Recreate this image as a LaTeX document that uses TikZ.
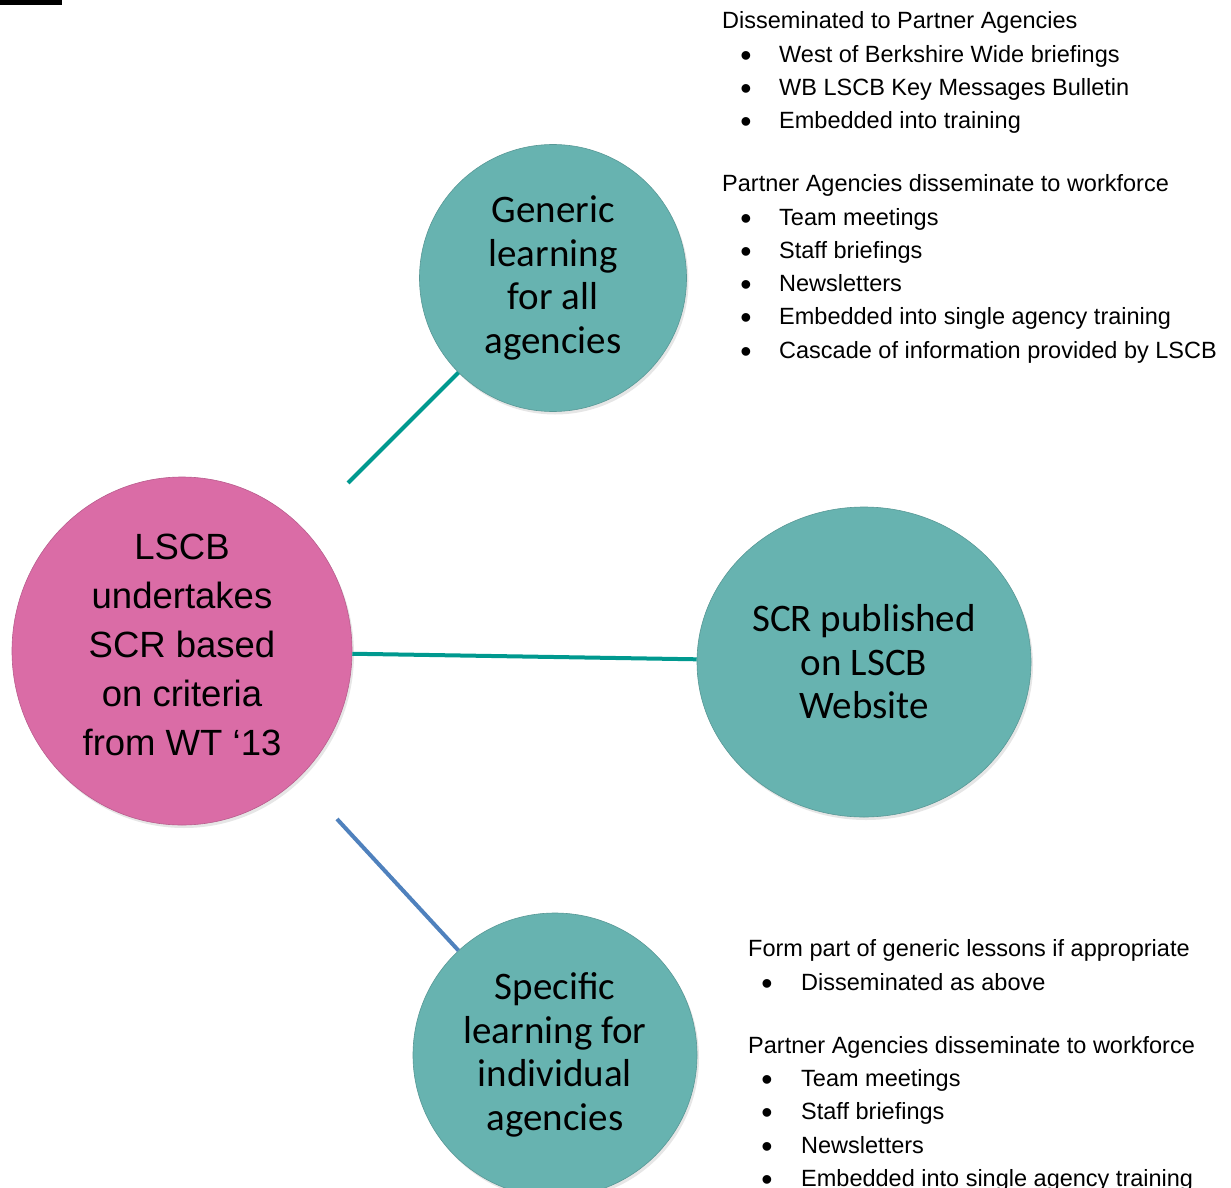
\documentclass[tikz,border=0pt]{standalone}
\usepackage{fontspec}
\setmainfont{Liberation Sans}
\newfontfamily\calfont{Carlito}
\usetikzlibrary{shapes.geometric,shadows}
\definecolor{tealfill}{HTML}{67B3B0}
\definecolor{pinkfill}{HTML}{DA6CA6}
\definecolor{tealline}{HTML}{00998F}
\definecolor{blueline}{HTML}{4F81BD}

\begin{document}
\begin{tikzpicture}[x=1pt,y=-1pt,
    bubble/.style={ellipse,inner sep=0pt,align=center,fill=tealfill,draw=tealfill!85!black,line width=0.6pt,
      drop shadow={shadow xshift=2pt,shadow yshift=-3pt,opacity=0.2},
      font=\calfont\fontsize{39}{43.5}\selectfont},
    hub/.style={bubble,fill=pinkfill,draw=pinkfill!85!black,text depth=12pt,font=\fontsize{36.5}{49}\selectfont},
    head/.style={anchor=base west,inner sep=0pt,font=\fontsize{23.5}{28}\selectfont},
    item/.style={head},
    dot/.style={anchor=base,inner sep=0pt,yshift=-4pt,font=\fontsize{32}{28}\selectfont},
    link/.style={line width=4pt,tealline}]
  \useasboundingbox (0,0) rectangle (1231,1188);
  \fill (0,0) rectangle (62,5);

  % circles
  \node[hub,minimum width=340pt,minimum height=348pt] (lscb) at (182,651)
    {LSCB\\undertakes\\SCR based\\on criteria\\from WT ‘13};
  \node[bubble,minimum width=267pt,minimum height=267pt] (generic) at (553,278)
    {Generic\\learning\\for all\\agencies};
  \node[bubble,minimum width=334pt,minimum height=310pt] (published) at (864,662)
    {SCR published\\on LSCB\\Website};
  \node[bubble,minimum width=284pt,minimum height=284pt] (specific) at (555,1055)
    {Specific\\learning for\\individual\\agencies};

  % connectors
  \coordinate (startA) at (348,483);
  \coordinate (startC) at (337,819);
  \draw[link] (startA) -- (generic);
  \draw[link] (lscb) -- (published);
  \draw[link,blueline] (startC) -- (specific);

  % top text
  \node[head] (hdA) at (722,29) {Disseminated to Partner Agencies};
  \foreach \txt [count=\i] in {West of Berkshire Wide briefings,WB LSCB Key Messages Bulletin,Embedded into training}{
    \node[dot] (dotA\i) at (746,{29+33.3*\i}) {\textbullet};
    \node[item] (itemA\i) at (779,{29+33.3*\i}) {\txt};
  }
  \node[head] (hdB) at (722,191.7) {Partner Agencies disseminate to workforce};
  \foreach \txt [count=\i] in {Team meetings,Staff briefings,Newsletters,Embedded into single agency training,Cascade of information provided by LSCB}{
    \node[dot] (dotB\i) at (746,{191.7+33.3*\i}) {\textbullet};
    \node[item] (itemB\i) at (779,{191.7+33.3*\i}) {\txt};
  }

  % bottom text
  \node[head] (hdC) at (748,956.7) {Form part of generic lessons if appropriate};
  \node[dot] (dotC1) at (767,990) {\textbullet};
  \node[item] (itemC1) at (801,990) {Disseminated as above};
  \node[head] (hdD) at (748,1053.3) {Partner Agencies disseminate to workforce};
  \foreach \txt [count=\i] in {Team meetings,Staff briefings,Newsletters,Embedded into single agency training}{
    \node[dot] (dotD\i) at (767,{1053.3+33.3*\i}) {\textbullet};
    \node[item] (itemD\i) at (801,{1053.3+33.3*\i}) {\txt};
  }
\end{tikzpicture}
\end{document}
